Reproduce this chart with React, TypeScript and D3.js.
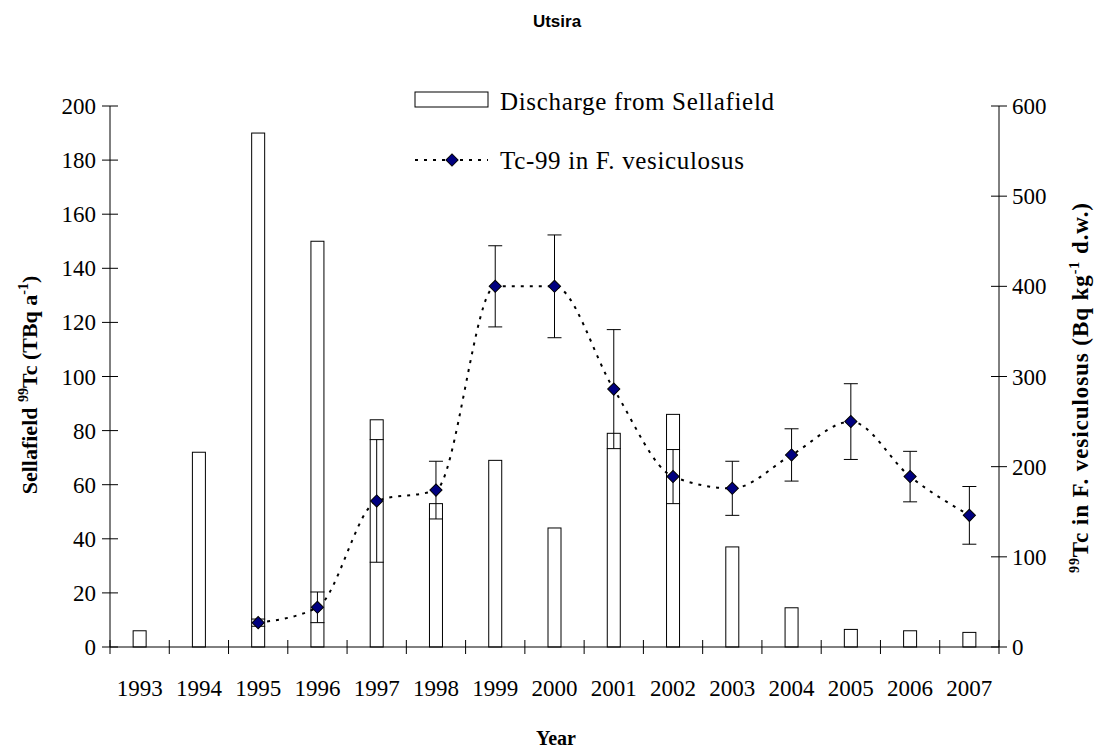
import React from "react";
import * as d3 from "d3";

const years = ["1993","1994","1995","1996","1997","1998","1999","2000","2001","2002","2003","2004","2005","2006","2007"];
const discharge = [6, 72, 190, 150, 84, 53, 69, 44, 79, 86, 37, 14.5, 6.5, 6, 5.4];
const tcYears = ["1995","1996","1997","1998","1999","2000","2001","2002","2003","2004","2005","2006","2007"];
const tcValues = [27, 44, 162, 174, 400, 400, 286, 189, 176, 213, 250, 189, 146];
const tcErrors = [4, 17, 68, 32, 45, 57, 66, 30, 30, 29, 42, 28, 32];
const leftTicks = [0, 20, 40, 60, 80, 100, 120, 140, 160, 180, 200];
const rightTicks = [0, 100, 200, 300, 400, 500, 600];

const SERIF = "'Liberation Serif', 'Times New Roman', serif";

export default function App() {
  const L = 110, R = 999, Y0 = 647, YT = 106;
  const x = d3.scaleBand<string>().domain(years).range([L, R]);
  const yL = d3.scaleLinear().domain([0, 200]).range([Y0, YT]);
  const yR = d3.scaleLinear().domain([0, 600]).range([Y0, YT]);
  const bw = 13;
  const cx = (y: string) => (x(y) as number) + x.bandwidth() / 2;
  const pts = tcYears.map((y, i) => [cx(y), yR(tcValues[i])] as [number, number]);
  const line = d3.line().curve(d3.curveMonotoneX)(pts) as string;
  const diamond = d3.symbol(d3.symbolSquare, 74)() as string;
  const boundaries = d3.range(years.length + 1).map(i => L + i * x.bandwidth());

  return (
    <svg width={1100} height={751} style={{ position: "absolute", left: 0, top: 0, background: "#fff" }}>
      <rect x={0} y={0} width={1100} height={751} fill="#fff" />
      <text x={557} y={27} textAnchor="middle" fontFamily="'Liberation Sans', Arial, sans-serif" fontWeight="bold" fontSize={17}>Utsira</text>

      {/* bars */}
      {years.map((y, i) => (
        <rect key={y} x={cx(y) - bw / 2} y={yL(discharge[i])} width={bw} height={Y0 - yL(discharge[i])}
          fill="#fff" stroke="#000" strokeWidth={1} />
      ))}

      {/* axes */}
      <line x1={L} y1={YT} x2={L} y2={Y0} stroke="#000" strokeWidth={1} />
      <line x1={R} y1={YT} x2={R} y2={Y0} stroke="#000" strokeWidth={1} />
      <line x1={L} y1={Y0} x2={R} y2={Y0} stroke="#000" strokeWidth={1} />
      {leftTicks.map(t => (
        <g key={"l" + t}>
          <line x1={L - 8} x2={L + 8} y1={yL(t)} y2={yL(t)} stroke="#000" />
          <text x={96} y={yL(t)} dy="0.35em" textAnchor="end" fontFamily={SERIF} fontSize={23}>{t}</text>
        </g>
      ))}
      {rightTicks.map(t => (
        <g key={"r" + t}>
          <line x1={R - 8} x2={R + 8} y1={yR(t)} y2={yR(t)} stroke="#000" />
          <text x={1012} y={yR(t)} dy="0.35em" textAnchor="start" fontFamily={SERIF} fontSize={23}>{t}</text>
        </g>
      ))}
      {boundaries.map((b, i) => (
        <line key={"b" + i} x1={b} x2={b} y1={Y0 - 7} y2={Y0 + 7} stroke="#000" />
      ))}
      {years.map(y => (
        <text key={"t" + y} x={cx(y)} y={696} textAnchor="middle" fontFamily={SERIF} fontSize={23}>{y}</text>
      ))}

      {/* error bars */}
      {tcYears.map((y, i) => {
        const c = cx(y), hi = yR(tcValues[i] + tcErrors[i]), lo = yR(tcValues[i] - tcErrors[i]);
        return (
          <g key={"e" + y} stroke="#000" strokeWidth={1}>
            <line x1={c} x2={c} y1={hi} y2={lo} />
            <line x1={c - 7} x2={c + 7} y1={hi} y2={hi} />
            <line x1={c - 7} x2={c + 7} y1={lo} y2={lo} />
          </g>
        );
      })}

      {/* line */}
      <path d={line} fill="none" stroke="#000" strokeWidth={2} strokeDasharray="3,6" />
      {pts.map((p, i) => (
        <path key={"m" + i} d={diamond} transform={`translate(${p[0]},${p[1]}) rotate(45)`} fill="#000080" stroke="#000" strokeWidth={1} />
      ))}

      {/* legend */}
      <rect x={415} y={92} width={73} height={15} fill="#fff" stroke="#000" />
      <text x={500} y={110} fontFamily={SERIF} fontSize={25} textLength={274} lengthAdjust="spacing">Discharge from Sellafield</text>
      <line x1={415} x2={488} y1={160} y2={160} stroke="#000" strokeWidth={2} strokeDasharray="3,6" />
      <path d={diamond} transform="translate(452,160) rotate(45)" fill="#000080" stroke="#000" />
      <text x={500} y={169} fontFamily={SERIF} fontSize={25} textLength={244} lengthAdjust="spacing">Tc-99 in F. vesiculosus</text>

      {/* axis titles */}
      <text x={556} y={745} textAnchor="middle" fontFamily={SERIF} fontWeight="bold" fontSize={20}>Year</text>
      <text transform="translate(37,385) rotate(-90)" textAnchor="middle" fontFamily={SERIF} fontWeight="bold" fontSize={22}>
        Sellafield <tspan fontSize={14} dy={-9}>99</tspan><tspan dy={9}>Tc (TBq a</tspan><tspan fontSize={14} dy={-9}>-1</tspan><tspan dy={9}>)</tspan>
      </text>
      <text transform="translate(1088,388) rotate(-90)" textAnchor="middle" fontFamily={SERIF} fontWeight="bold" fontSize={23} textLength={370} lengthAdjust="spacing">
        <tspan fontSize={14} dy={-9}>99</tspan><tspan dy={9}>Tc in F. vesiculosus (Bq kg</tspan><tspan fontSize={14} dy={-9}>-1</tspan><tspan dy={9}> d.w.)</tspan>
      </text>
    </svg>
  );
}
